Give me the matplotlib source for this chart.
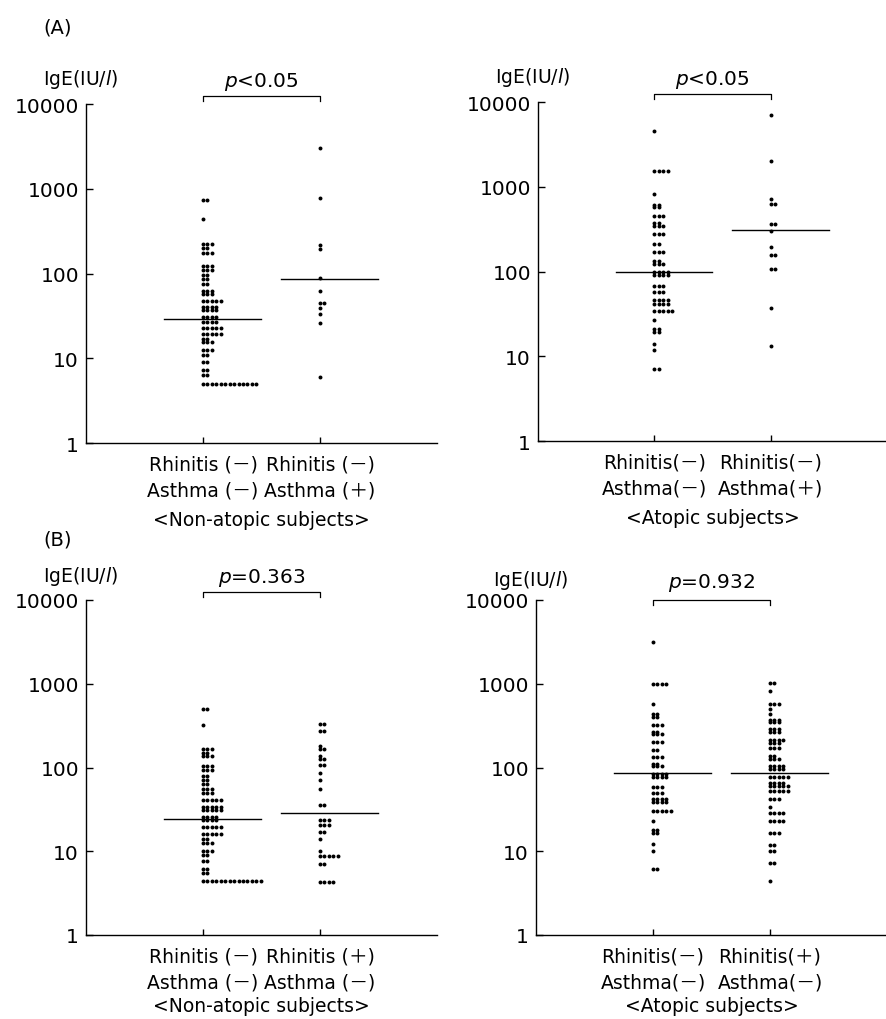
import numpy as np
import matplotlib
matplotlib.use("Agg")
import matplotlib.pyplot as plt
import matplotlib.transforms as mtransforms

plt.rcParams['font.family'] = ['DejaVu Sans', 'Noto Sans CJK JP']
plt.rcParams['mathtext.fontset'] = 'dejavusans'

W, H = 887, 1020

# ---------------- data ----------------
# (A) non-atopic: Rhinitis(-)Asthma(-) vs Rhinitis(-)Asthma(+)
a_non_g1_vals = [727, 445, 221, 198, 175, 123, 110, 96, 85, 76, 63, 58, 48, 40, 37,
                 30.5, 27, 23, 19.3, 16.8, 15.4, 12.4, 10.9, 9.1, 7.2, 6.3, 5.0]
a_non_g1_counts = [2, 1, 3, 2, 3, 3, 3, 2, 2, 2, 3, 3, 5, 4, 4, 4, 4, 5, 5, 2, 3, 3, 2, 2, 2, 2, 13]
a_non_g2_vals = [3060, 778, 215, 192, 89, 63, 45, 39, 33, 26, 6.0]
a_non_g2_counts = [1, 1, 1, 1, 1, 1, 2, 1, 1, 1, 1]
a_non_medians = [29, 86]

# (A) atopic
a_ato_g1_vals = [4600, 1520, 827, 616, 571, 455, 373, 343, 278, 209, 168, 133, 121, 100, 90,
                 68, 58, 46, 41, 34.5, 27, 21, 19.3, 14, 11.8, 7.0]
a_ato_g1_counts = [1, 4, 1, 2, 2, 3, 2, 3, 3, 2, 3, 2, 3, 4, 4, 3, 3, 4, 4, 5, 1, 2, 2, 1, 1, 2]
a_ato_g2_vals = [7100, 2000, 711, 623, 367, 297, 194, 156, 108, 37, 13.1]
a_ato_g2_counts = [1, 1, 1, 2, 2, 1, 1, 2, 2, 1, 1]
a_ato_medians = [100, 309]

# (B) non-atopic: Rhinitis(-)Asthma(-) vs Rhinitis(+)Asthma(-)
b_non_g1_vals = [505, 318, 167, 148, 138, 103, 93, 79, 70, 64, 55, 50, 41, 34, 31, 25.5,
                 23.6, 19.5, 16.1, 14, 12.7, 10.2, 9.1, 7.7, 6.1, 5.5, 4.4]
b_non_g1_counts = [2, 1, 3, 2, 3, 3, 3, 2, 2, 2, 3, 3, 5, 5, 5, 4, 4, 5, 5, 2, 3, 3, 2, 2, 2, 2, 14]
b_non_g2_vals = [327, 275, 181, 165, 138, 127, 108, 87, 70, 55, 36, 23.6, 20.4, 16.8, 14,
                 10.2, 8.7, 7.1, 4.3]
b_non_g2_counts = [2, 2, 1, 2, 1, 2, 2, 1, 1, 1, 2, 3, 3, 2, 1, 1, 5, 2, 4]
b_non_medians = [24, 29]

# (B) atopic
b_ato_g1_vals = [3150, 1000, 567, 433, 396, 320, 267, 249, 202, 163, 132, 109, 103, 83, 77,
                 59, 50, 42, 39, 30, 23, 17.7, 16.4, 12.1, 10, 6.2]
b_ato_g1_counts = [1, 4, 1, 2, 2, 3, 2, 3, 3, 2, 3, 2, 3, 4, 4, 3, 3, 4, 4, 5, 1, 2, 2, 1, 1, 2]
b_ato_g2_vals = [1020, 830, 578, 505, 433, 373, 346, 288, 268, 215, 198, 169, 138, 125, 105,
                 95, 77, 66, 60, 52, 42, 34, 28.5, 23, 16.4, 11.8, 10.2, 7.2, 4.4]
b_ato_g2_counts = [2, 1, 3, 1, 1, 3, 3, 3, 3, 4, 3, 3, 2, 3, 4, 4, 5, 4, 5, 5, 3, 1, 4, 4, 3,
                   2, 2, 2, 1]
b_ato_medians = [87, 87]

ytick_vals = [1, 10, 100, 1000, 10000]
ytick_labels = ['1', '10', '100', '1000', '10000']

M = '\uff0d'  # full-width minus
P = '\uff0b'  # full-width plus
labels_a_non = [f'Rhinitis ({M})\nAsthma ({M})', f'Rhinitis ({M})\nAsthma ({P})']
labels_a_ato = [f'Rhinitis({M})\nAsthma({M})', f'Rhinitis({M})\nAsthma({P})']
labels_b_non = [f'Rhinitis ({M})\nAsthma ({M})', f'Rhinitis ({P})\nAsthma ({M})']
labels_b_ato = [f'Rhinitis({M})\nAsthma({M})', f'Rhinitis({P})\nAsthma({M})']
p_texts = [r'$p$<0.05', r'$p$<0.05', r'$p$=0.363', r'$p$=0.932']
subtitles = ['<Non-atopic subjects>', '<Atopic subjects>',
             '<Non-atopic subjects>', '<Atopic subjects>']

fig = plt.figure(figsize=(W / 100, H / 100), dpi=100)


def rect(l, r, t, b):
    return [l / W, 1 - b / H, (r - l) / W, (b - t) / H]


# rect, groups, medians, labels, subtitle y, bracket y (axes frac), header y (axes frac)
panels = [
    (rect(86, 437, 105, 444), [(a_non_g1_vals, a_non_g1_counts), (a_non_g2_vals, a_non_g2_counts)],
     a_non_medians, labels_a_non, -0.225, 1.024, 1.035),
    (rect(538, 887, 103, 442), [(a_ato_g1_vals, a_ato_g1_counts), (a_ato_g2_vals, a_ato_g2_counts)],
     a_ato_medians, labels_a_ato, -0.225, 1.024, 1.035),
    (rect(86, 437, 601, 936), [(b_non_g1_vals, b_non_g1_counts), (b_non_g2_vals, b_non_g2_counts)],
     b_non_medians, labels_b_non, -0.21, 1.024, 1.035),
    (rect(536, 887, 601, 936), [(b_ato_g1_vals, b_ato_g1_counts), (b_ato_g2_vals, b_ato_g2_counts)],
     b_ato_medians, labels_b_ato, -0.21, 1.0, 1.022),
]

step = 0.038
for i, (r, groups, meds, labs, suby, bry, hy) in enumerate(panels):
    ax = fig.add_axes(r)
    ax.set_yscale('log')
    ax.set_ylim(1, 10000)
    ax.set_xlim(0, 3.0)
    for s in ['top', 'right']:
        ax.spines[s].set_visible(False)
    for s in ['left', 'bottom']:
        ax.spines[s].set_linewidth(1.0)
    for gi, (vals, cnts) in enumerate(groups):
        xc = gi + 1
        xs, ys = [], []
        for v, c in zip(vals, cnts):
            for k in range(c):
                xs.append(xc + k * step)
                ys.append(v)
        ax.scatter(xs, ys, s=8, c='black', marker='o', linewidths=0, zorder=3)
        ax.plot([xc - 0.33, xc + 0.5], [meds[gi], meds[gi]], color='black', lw=1.0, zorder=2)
    ax.set_yticks(ytick_vals)
    ax.set_yticklabels(ytick_labels)
    ax.yaxis.set_minor_locator(matplotlib.ticker.NullLocator())
    ax.tick_params(axis='y', direction='in', length=5, width=1, labelsize=14.5, pad=5)
    ax.set_xticks([1, 2])
    ax.set_xticklabels(labs, fontsize=13.5, linespacing=1.5)
    ax.tick_params(axis='x', direction='in', length=4, width=1, pad=8)
    trans = mtransforms.blended_transform_factory(ax.transData, ax.transAxes)
    ax.plot([1, 1, 2, 2], [bry - 0.014, bry, bry, bry - 0.014], color='black', lw=0.9,
            transform=trans, clip_on=False)
    ax.text(1.5, hy, p_texts[i], transform=trans, ha='center', va='bottom', fontsize=14.5)
    ax.text(-0.37, hy + 0.005, 'IgE(IU/$l$)', transform=trans, ha='left', va='bottom', fontsize=13.5)
    ax.text(1.5, suby, subtitles[i], transform=trans, ha='center', va='center', fontsize=13.5)

fig.text(43 / W, 1 - 28 / H, '(A)', ha='left', va='center', fontsize=14)
fig.text(43 / W, 1 - 540 / H, '(B)', ha='left', va='center', fontsize=14)

fig.savefig('out.png', dpi=100)
